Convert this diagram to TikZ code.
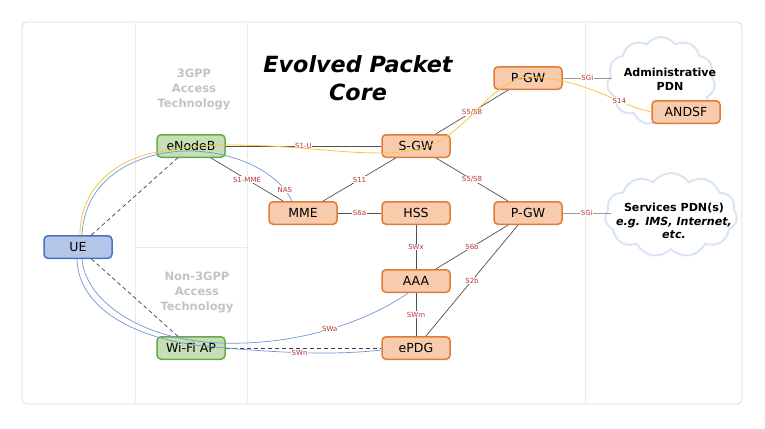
\documentclass[tikz,border=0pt]{standalone}
\usepackage{fontspec}
\setmainfont{DejaVu Sans}
\usetikzlibrary{shapes.symbols}
\definecolor{orfill}{HTML}{F8CBAD}
\definecolor{ordraw}{HTML}{E27B36}
\definecolor{grfill}{HTML}{C6E0B4}
\definecolor{grdraw}{HTML}{6AA84F}
\definecolor{blfill}{HTML}{B4C6E7}
\definecolor{bldraw}{HTML}{4472C4}
\definecolor{curveblue}{HTML}{7094D8}
\definecolor{curveyellow}{HTML}{F9C440}
\definecolor{lblred}{HTML}{B8363A}
\definecolor{linegray}{HTML}{505050}
\definecolor{sepgray}{HTML}{EAEAEA}
\definecolor{framegray}{HTML}{DADADA}
\definecolor{accgray}{HTML}{C3C3C3}
\definecolor{cloudedge}{HTML}{D8E6F3}
\tikzset{
 box/.style={rounded corners=4pt, line width=1.5pt, minimum width=68pt, minimum height=22.5pt, inner sep=0pt, font=\fontsize{12.5}{14}\selectfont},
 core/.style={box, fill=orfill, draw=ordraw},
 access/.style={box, fill=grfill, draw=grdraw},
 terminal/.style={box, fill=blfill, draw=bldraw},
 iface/.style={draw=linegray, line width=0.7pt},
 sgiline/.style={draw=gray!80, line width=0.8pt},
 ctrl/.style={draw=black!75, line width=0.7pt, dash pattern=on 4pt off 3pt},
 ycurve/.style={draw=curveyellow, line width=0.8pt},
 bcurve/.style={draw=curveblue, line width=0.7pt},
 lbl/.style={text=lblred, font=\fontsize{7}{8}\selectfont, fill=white, inner sep=0.6pt},
 accesstxt/.style={text=accgray, font=\bfseries\fontsize{11.5}{15}\selectfont, align=center},
 cloudshape/.style={cloud, cloud puffs=11, cloud puff arc=110, draw=cloudedge, line width=2pt, fill=white, inner sep=0pt},
 cloudtxt/.style={font=\bfseries\fontsize{11.1}{14}\selectfont, align=center},
}
\begin{document}
\begin{tikzpicture}[x=1pt,y=-1pt]
\useasboundingbox (0,0) rectangle (765,428);
% frame and separators
\draw[framegray, line width=0.8pt, rounded corners=5pt] (22,22) rectangle (742,404);
\draw[sepgray, line width=0.8pt] (135,23) -- (135,403) (247,23) -- (247,403) (585,23) -- (585,403) (135,247) -- (247,247);
% texts
\node[accesstxt] (acc3gpp) at (194,89) {3GPP\\Access\\Technology};
\node[accesstxt] (accnon) at (197,292) {Non-3GPP\\Access\\Technology};
\node[font=\bfseries\itshape\fontsize{22.3}{28}\selectfont, align=center] (title) at (358,78) {Evolved Packet\\Core};
% clouds
\node[cloudshape, minimum width=108pt, minimum height=88pt] (admcloud) at (661,81) {};
\node[cloudshape, minimum width=132pt, minimum height=84pt] (svccloud) at (671,215) {};
\node[cloudtxt] (admtxt) at (670,79) {Administrative\\PDN};
\node[cloudtxt, font=\bfseries\fontsize{11.1}{13.5}\selectfont] (svctxt) at (674,221) {Services PDN(s)\\\textit{e.g. IMS, Internet,}\\\textit{etc.}};
% nodes
\node[access] (enb) at (191,146) {eNodeB};
\node[core] (sgw) at (416,146) {S-GW};
\node[core] (pgw1) at (528,78) {P-GW};
\node[core] (andsf) at (686,112) {ANDSF};
\node[core] (mme) at (303,213) {MME};
\node[core] (hss) at (416,213) {HSS};
\node[core] (pgw2) at (528,213) {P-GW};
\node[terminal] (ue) at (78,247) {UE};
\node[core] (aaa) at (416,281) {AAA};
\node[access] (wifi) at (191,348) {Wi-Fi AP};
\node[core] (epdg) at (416,348) {ePDG};
\coordinate (admin-in) at (612,78);
\coordinate (svc-in) at (611,213);
% interfaces
\draw[iface] (enb) -- node[lbl]{S1-U} (sgw);
\draw[iface] (enb) -- node[lbl]{S1-MME} (mme);
\draw[iface] (mme) -- node[lbl]{S11} (sgw);
\draw[iface] (mme) -- node[lbl]{S6a} (hss);
\draw[iface] (sgw) -- node[lbl]{S5/S8} (pgw1);
\draw[iface] (sgw) -- node[lbl]{S5/S8} (pgw2);
\draw[iface] (hss) -- node[lbl]{SWx} (aaa);
\draw[iface] (aaa) -- node[lbl]{S6b} (pgw2);
\draw[iface] (epdg) -- node[lbl]{S2b} (pgw2);
\draw[iface] (aaa) -- node[lbl]{SWm} (epdg);
\draw[sgiline] (pgw1) -- node[lbl]{SGi} (admin-in);
\draw[sgiline] (pgw2) -- node[lbl]{SGi} (svc-in);
% control (dashed)
\draw[ctrl] (ue) -- (enb);
\draw[ctrl] (ue) -- (wifi);
\draw[ctrl] (wifi) -- (epdg);
% user plane / signalling curves
\draw[ycurve] ([xshift=2pt]ue.north) .. controls (80,185) and (120,158) .. (158,152) .. controls (180,148) and (200,145) .. (225,145) .. controls (300,145) and (330,153) .. (383,153) .. controls (420,153) and (440,143) .. (455,130) .. controls (480,110) and (500,80) .. (527,77) .. controls (585,78) and (615,104) .. node[lbl, pos=0.7]{S14} (andsf.west);
\draw[bcurve] ([xshift=4pt]ue.north) .. controls (85,170) and (150,150) .. (191,151) .. controls (240,152) and (280,175) .. node[lbl,pos=0.85]{NAS} ([xshift=-11pt]mme.north);
\draw[bcurve] ([xshift=4pt]ue.south) .. controls (85,300) and (140,340) .. (220,343) .. controls (300,346) and (370,320) .. node[lbl,pos=0.5]{SWa} ([xshift=-8pt]aaa.south);
\draw[bcurve] ([xshift=-1pt]ue.south) .. controls (78,310) and (140,342) .. (215,347) .. controls (270,352) and (330,356) .. node[lbl,pos=0.5]{SWn} ([yshift=-2pt]epdg.west);
\end{tikzpicture}
\end{document}
